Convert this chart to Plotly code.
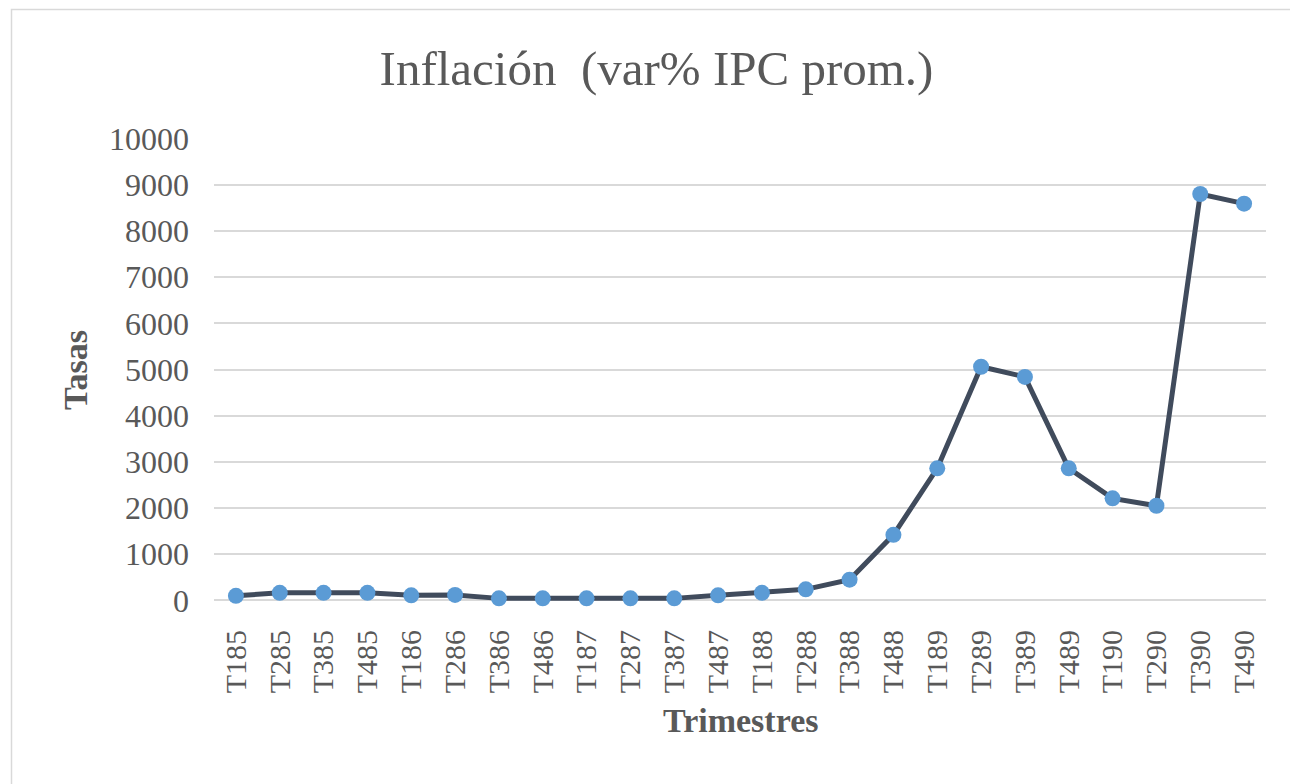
import plotly.graph_objects as go

trimestres = ["T185", "T285", "T385", "T485", "T186", "T286", "T386", "T486",
              "T187", "T287", "T387", "T487", "T188", "T288", "T388", "T488",
              "T189", "T289", "T389", "T489", "T190", "T290", "T390", "T490"]
tasas = [100, 165, 165, 165, 110, 120, 45, 45,
         45, 45, 45, 110, 165, 240, 450, 1420,
         2860, 5060, 4840, 2860, 2210, 2050, 8800, 8590]
y_ticks = [0, 1000, 2000, 3000, 4000, 5000, 6000, 7000, 8000, 9000, 10000]
y_tick_labels = [str(v) for v in y_ticks]

# page body has an 8px margin, so the figure is 8px smaller and offset
OFF = 8
W, H = 1298 - OFF, 784 - OFF
L, R, T, B = 214 - OFF, 1266 - OFF, 138 - OFF, 601 - OFF

fig = go.Figure()
fig.add_trace(go.Scatter(
    x=trimestres, y=tasas, mode="lines+markers",
    line=dict(color="#404B5C", width=5),
    marker=dict(color="#5B9BD5", size=16, line=dict(width=0)),
    cliponaxis=False,
    showlegend=False,
))

serif = "Liberation Serif, Times New Roman, serif"
grey = "#595959"
fig.update_layout(
    width=W, height=H,
    margin=dict(l=L, r=W - R, t=T, b=H - B, pad=0),
    paper_bgcolor="white", plot_bgcolor="white",
    font=dict(family=serif, color=grey),
    title=dict(text="Inflación  (var% IPC prom.)", x=(656.5 - OFF) / W, xanchor="center",
               y=1 - (68 - OFF) / H, yanchor="middle",
               font=dict(size=49, family=serif, color=grey)),
    xaxis=dict(
        type="category", range=[-0.5, len(trimestres) - 0.5],
        tickangle=-90, tickfont=dict(size=30, color=grey),
        showgrid=False, zeroline=False, showline=False, ticks="",
        ticklabelstandoff=22,
    ),
    yaxis=dict(
        range=[-12, 10012], tickvals=y_ticks, ticktext=y_tick_labels,
        tickfont=dict(size=32, color=grey),
        showgrid=True, gridcolor="#D9D9D9", gridwidth=1.5,
        zeroline=True, zerolinecolor="#D9D9D9", zerolinewidth=1.5,
        showline=False, ticks="", ticklabelstandoff=24,
    ),
    annotations=[
        dict(text="<b>Tasas</b>", xref="paper", yref="paper",
             x=(75 - OFF - L) / (R - L), y=(B - (370 - OFF)) / (B - T),
             xanchor="center", yanchor="middle", textangle=-90, showarrow=False,
             font=dict(size=34, family=serif, color=grey)),
        dict(text="<b>Trimestres</b>", xref="paper", yref="paper",
             x=(740.5 - OFF - L) / (R - L), y=(B - (720 - OFF)) / (B - T),
             xanchor="center", yanchor="middle", showarrow=False,
             font=dict(size=34, family=serif, color=grey)),
    ],
)

# outer chart frame (only top and left edges are inside the picture)
pw, ph = R - L, B - T
fig.add_shape(type="rect", xref="paper", yref="paper",
              x0=(11.5 - OFF - L) / pw, x1=(1320 - OFF - L) / pw,
              y0=(B - 800) / ph, y1=(B - (9.5 - OFF)) / ph,
              line=dict(color="#D9D9D9", width=1.5), fillcolor="rgba(0,0,0,0)",
              layer="below")

fig.write_html("out.html")
